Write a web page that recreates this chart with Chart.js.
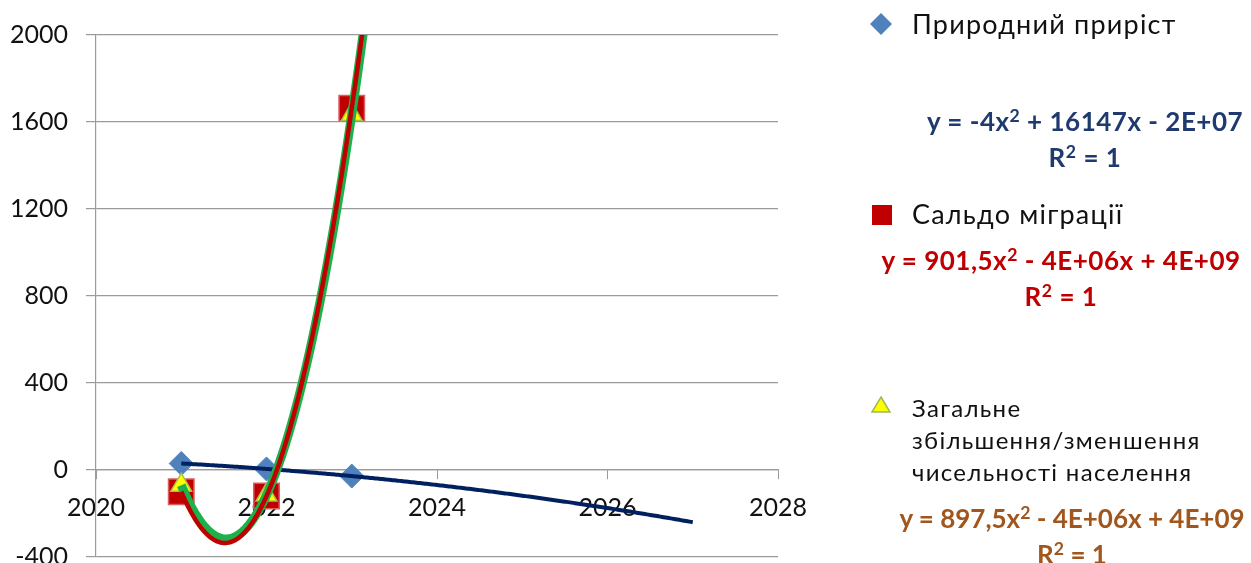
<!DOCTYPE html>
<html>
<head>
<meta charset="utf-8">
<script src="https://cdn.jsdelivr.net/npm/chart.js@4.4.1/dist/chart.umd.min.js"></script>
<style>
  html, body { margin: 0; padding: 0; background: #fff; overflow: hidden; width: 1251px; height: 563px; }
  #wrap { position: absolute; left: 0; top: 0; width: 1251px; height: 590px; }
  .lbl { position: absolute; font-family: Lato, "Open Sans", sans-serif; white-space: nowrap; color: #111; }
  .leg { font-size: 27px; line-height: 32px; letter-spacing: 1.2px; }
  .leg.small { font-size: 24px; letter-spacing: 1.3px; }
  .eq { font-size: 26px; font-weight: bold; line-height: 36px; text-align: center; letter-spacing: 0.5px; }
  .eq.tight { letter-spacing: 0; }
  .eq sup { font-size: 0.68em; line-height: 0; vertical-align: 0.5em; }
  .mk { position: absolute; }
</style>
</head>
<body>
<div id="wrap"><canvas id="chart"></canvas></div>

<!-- легенда -->
<svg class="mk" style="left:869px;top:12px" width="24" height="24"><polygon points="12,1 23,12 12,23 1,12" fill="#4F81BD"/></svg>
<div class="lbl leg" style="left:912px;top:8px">Природний приріст</div>

<svg class="mk" style="left:871px;top:204px" width="22" height="22"><rect x="1" y="1" width="20" height="20" fill="#C00000"/></svg>
<div class="lbl leg" style="left:912px;top:198px">Сальдо міграції</div>

<svg class="mk" style="left:870px;top:396px" width="22" height="18"><polygon points="11,1 20,16 2,16" fill="#FFFF00" stroke="#9BBB59" stroke-width="1.5"/></svg>
<div class="lbl leg small" style="left:912px;top:392px">Загальне<br>збільшення/зменшення<br>чисельності населення</div>

<!-- рівняння трендів -->
<div class="lbl eq" style="left:885px;width:400px;top:103px;color:#1F3A6E">y = -4x<sup>2</sup> + 16147x - 2E+07<br>R<sup>2</sup> = 1</div>
<div class="lbl eq" style="left:841px;width:440px;top:242px;color:#C00000">y = 901,5x<sup>2</sup> - 4E+06x + 4E+09<br>R<sup>2</sup> = 1</div>
<div class="lbl eq tight" style="left:852px;width:440px;top:500px;color:#A0561C">y = 897,5x<sup>2</sup> - 4E+06x + 4E+09<br>R<sup>2</sup> = 1</div>

<script>
// Дані
const years = [2021, 2022, 2023];
const naturalGrowth = [30, 5, -28];      // Природний приріст
const migration = [-100, -120, 1663];    // Сальдо міграції
const totalChange = [-70, -115, 1635];   // Загальне збільшення/зменшення
const xMin = 2020, xMax = 2028, xStep = 2;
const yMin = -400, yMax = 2000, yStep = 400;
const forecastForward = 4; // тренд продовжено на 4 роки вперед

// поліноміальний тренд 2-го ступеня (як в Excel) за найменшими квадратами
function quadFit(xs, ys) {
  const x0 = xs[1];
  let s = [0, 0, 0, 0, 0], t = [0, 0, 0];
  xs.forEach((x, i) => {
    const u = x - x0;
    for (let k = 0; k < 5; k++) s[k] += Math.pow(u, k);
    for (let k = 0; k < 3; k++) t[k] += ys[i] * Math.pow(u, k);
  });
  // розв'язуємо 3x3
  const M = [[s[0], s[1], s[2], t[0]], [s[1], s[2], s[3], t[1]], [s[2], s[3], s[4], t[2]]];
  for (let i = 0; i < 3; i++) {
    for (let j = i + 1; j < 3; j++) {
      const f = M[j][i] / M[i][i];
      for (let k = i; k < 4; k++) M[j][k] -= f * M[i][k];
    }
  }
  const c = [0, 0, 0];
  for (let i = 2; i >= 0; i--) {
    let v = M[i][3];
    for (let k = i + 1; k < 3; k++) v -= M[i][k] * c[k];
    c[i] = v / M[i][i];
  }
  return u => c[0] + c[1] * (u - x0) + c[2] * (u - x0) * (u - x0);
}

function trendPoints(ys) {
  const f = quadFit(years, ys);
  const pts = [];
  const from = years[0], to = years[years.length - 1] + forecastForward;
  for (let x = from; x <= to + 1e-9; x += 0.02) pts.push({ x: x, y: f(x) });
  return pts;
}

const toXY = ys => years.map((x, i) => ({ x: x, y: ys[i] }));

Chart.defaults.font.family = 'Lato, "Open Sans", sans-serif';

const gridColor = '#9A9A9A';

new Chart(document.getElementById('chart'), {
  type: 'scatter',
  data: {
    datasets: [
      { label: 'Тренд (Сальдо міграції)', data: trendPoints(migration), showLine: true, pointRadius: 0,
        borderColor: '#C00000', borderWidth: 4.5, order: 0 },
      { label: 'Тренд (Загальне)', data: trendPoints(totalChange), showLine: true, pointRadius: 0,
        borderColor: '#1DB14B', borderWidth: 9, order: 1 },
      { label: 'Тренд (Природний приріст)', data: trendPoints(naturalGrowth), showLine: true, pointRadius: 0,
        borderColor: '#002060', borderWidth: 4, order: 2 },
      { label: 'Загальне збільшення/зменшення чисельності населення', data: toXY(totalChange),
        pointStyle: 'triangle', pointRadius: 12, pointHoverRadius: 12,
        backgroundColor: '#FFFF00', borderColor: '#A8C050', borderWidth: 1.5, order: 3 },
      { label: 'Сальдо міграції', data: toXY(migration),
        pointStyle: 'rect', pointRadius: 18, pointHoverRadius: 18,
        backgroundColor: '#C00000', borderColor: '#D86060', borderWidth: 1.5, order: 4 },
      { label: 'Природний приріст', data: toXY(naturalGrowth),
        pointStyle: 'rectRot', pointRadius: 12, pointHoverRadius: 12,
        backgroundColor: '#4F81BD', borderColor: '#4F81BD', borderWidth: 1, order: 5 }
    ]
  },
  options: {
    responsive: true,
    maintainAspectRatio: false,
    animation: false,
    layout: { padding: { left: 0, top: 35, right: 473, bottom: 33 } },
    plugins: { legend: { display: false }, tooltip: { enabled: false } },
    scales: {
      x: {
        type: 'linear',
        position: { y: 0 },
        min: xMin, max: xMax,
        ticks: { stepSize: xStep, color: '#111', font: { size: 25 }, padding: 14, callback: v => String(v) },
        grid: { drawOnChartArea: false, drawTicks: true, tickLength: 9, color: gridColor },
        border: { color: gridColor, width: 1.2 }
      },
      y: {
        min: yMin, max: yMax,
        afterFit: s => { s.width = 96; },
        ticks: { stepSize: yStep, color: '#111', font: { size: 25 }, padding: 18, callback: v => String(v) },
        grid: { color: gridColor, lineWidth: 1.2, tickLength: 10 },
        border: { color: gridColor, width: 1.2 }
      }
    }
  }
});
</script>
</body>
</html>
